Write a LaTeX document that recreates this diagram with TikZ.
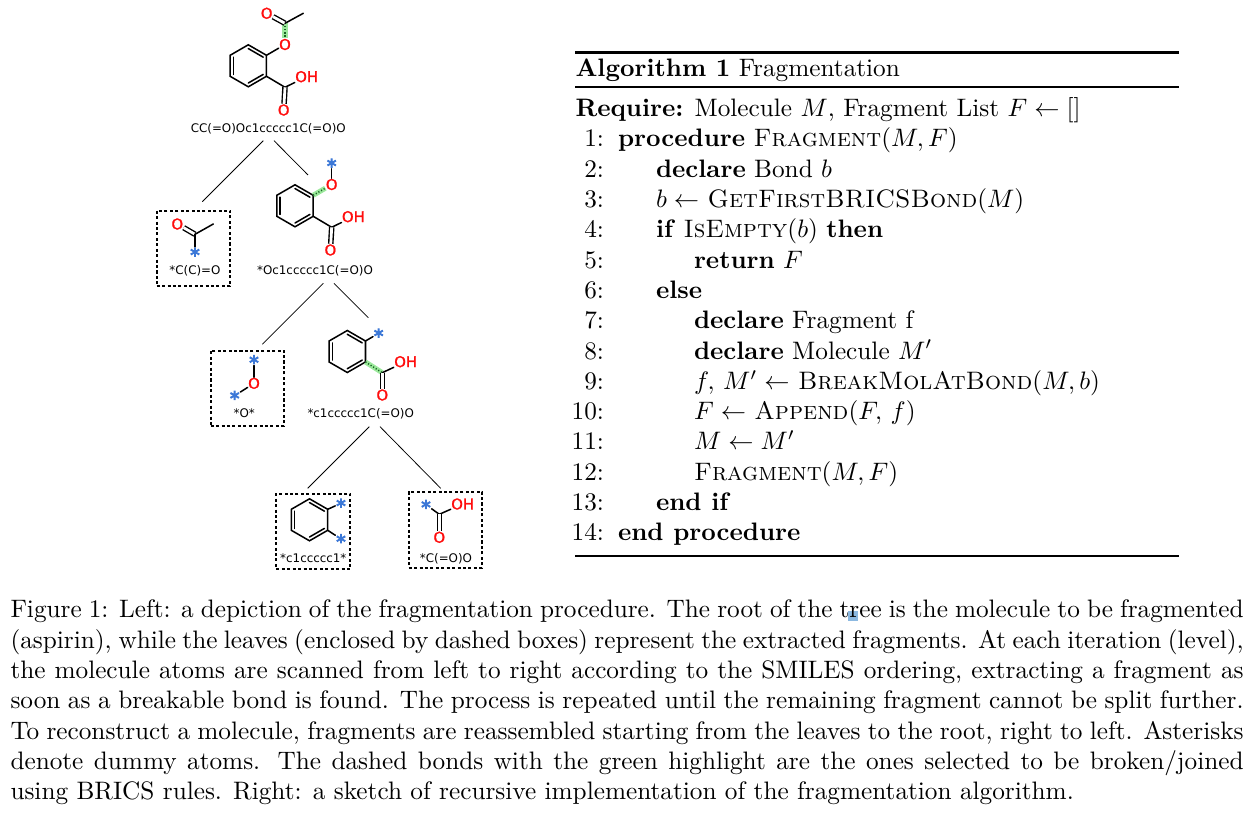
\documentclass[tikz,border=0pt]{standalone}
\usepackage{fontspec}
\usepackage{amsmath}
\usepackage{amssymb}
\usetikzlibrary{calc}
\newfontfamily\molfont{DejaVu Sans}
\newfontfamily\atomfont[FakeBold=1.2]{DejaVu Sans}
\newfontfamily\dummyfont[FakeBold=5]{DejaVu Sans}
\newcommand{\dummyatom}{\raisebox{-3.7pt}[1.8pt][1.8pt]{*}}
\definecolor{oxyred}{RGB}{255,13,13}
\definecolor{dummyblue}{RGB}{60,120,215}
\definecolor{hilitegreen}{RGB}{155,232,155}
\definecolor{dotgreen}{RGB}{25,100,35}
\definecolor{selblue}{RGB}{140,185,225}

\begin{document}
\begin{tikzpicture}[
    x=0.396pt, y=-0.396pt,
    bond/.style={line width=0.6pt, line cap=round},
    dblbond/.style={line width=0.55pt, double, double distance=1.1pt},
    hilite/.style={line width=2pt, hilitegreen},
    dashbond/.style={line width=0.6pt, dotgreen, dash pattern=on 0.45pt off 0.75pt},
    edge/.style={line width=0.3pt},
    oxy/.style={text=oxyred, font=\atomfont\fontsize{5.9}{6}\selectfont, inner sep=0pt},
    dummy/.style={text=dummyblue, font=\dummyfont\fontsize{7.4}{8}\selectfont, inner sep=0.2pt},
    smiles/.style={font=\molfont\fontsize{4.7}{6}\selectfont, inner sep=0pt},
    leafbox/.style={draw, line width=0.75pt, dash pattern=on 1.2pt off 0.95pt},
    algline/.style={anchor=base west, inner sep=0pt},
    lineno/.style={anchor=base east, inner sep=0pt}
]
\useasboundingbox (0,0) rectangle (1258,820);

% Benzene rings
\foreach \rn/\rx/\ry in {a/248.3/65.8, b/295/205.8, c/347.3/351.5, d/309.5/519.8} {
  \coordinate (\rn0) at (\rx,\ry);
  \foreach \i/\ang in {1/270,2/330,3/30,4/90,5/150,6/210} {
    \coordinate (\rn\i) at ($(\rn0)+(\ang:21)$);
  }
  \draw[bond] (\rn1) -- (\rn2) -- (\rn3) -- (\rn4) -- (\rn5) -- (\rn6) -- cycle;
  \draw[bond] ($(\rn0)!0.82!(\rn1)$) -- ($(\rn0)!0.82!(\rn2)$);
  \draw[bond] ($(\rn0)!0.82!(\rn3)$) -- ($(\rn0)!0.82!(\rn4)$);
  \draw[bond] ($(\rn0)!0.82!(\rn5)$) -- ($(\rn0)!0.82!(\rn6)$);
}

% Aspirin
\node[oxy] (aO1) at (285,44.5) {O};
\coordinate (aC1) at (285,23.3);
\node[oxy] (aO2) at (266.7,13.3) {O};
\coordinate (aMe) at (303.3,13.3);
\coordinate (aC2) at (285,87.3);
\node[oxy] (aOH) at (306.7,76.7) {OH};
\node[oxy] (aO3) at (283.7,110) {O};
\node[smiles] (aS) at (268.3,129) {CC(=O)Oc1ccccc1C(=O)O};
\draw[bond] (a2) -- (aO1);
\draw[hilite] (aC1) -- (aO1);
\draw[dashbond] (aC1) -- (aO1);
\draw[dblbond] (aC1) -- (aO2);
\draw[bond] (aC1) -- (aMe);
\draw[bond] (a3) -- (aC2);
\draw[bond] (aC2) -- (aOH);
\draw[dblbond] (aC2) -- (aO3);

% First leaf
\node[leafbox, minimum width=73.6*0.396pt, minimum height=75.3*0.396pt] (box1) at (193.5,248.3) {};
\node[oxy] (eO) at (177.3,224) {O};
\coordinate (eC) at (195,234.3);
\coordinate (eMe) at (213.3,224);
\node[dummy] (eD) at (195,252.3) {\dummyatom};
\node[smiles] (eS) at (195,270.7) {*C(C)=O};
\draw[dblbond] (eC) -- (eO);
\draw[bond] (eC) -- (eMe);
\draw[bond] (eC) -- (eD);

% Second molecule
\node[oxy] (bO1) at (331.7,184.5) {O};
\node[dummy] (bD) at (331.7,163.3) {\dummyatom};
\coordinate (bC2) at (331.7,227.3);
\node[oxy] (bOH) at (353.4,216.7) {OH};
\node[oxy] (bO3) at (330.4,250) {O};
\node[smiles] (bS) at (315,270.7) {*Oc1ccccc1C(=O)O};
\draw[hilite] (b2) -- (bO1);
\draw[dashbond] (b2) -- (bO1);
\draw[bond] (bO1) -- (bD);
\draw[bond] (b3) -- (bC2);
\draw[bond] (bC2) -- (bOH);
\draw[dblbond] (bC2) -- (bO3);

% Second leaf
\node[leafbox, minimum width=73.3*0.396pt, minimum height=75.3*0.396pt] (box2) at (247.3,388.3) {};
\node[dummy] (fD1) at (254,360) {\dummyatom};
\node[oxy] (fO) at (254,383.3) {O};
\node[dummy] (fD2) at (234.7,395.7) {\dummyatom};
\node[smiles] (fS) at (244.3,413.3) {*O*};
\draw[bond] (fO) -- (fD1);
\draw[bond] (fO) -- (fD2);

% Third molecule
\node[dummy] (cD) at (378.7,333.3) {\dummyatom};
\coordinate (cC2) at (382.3,372.7);
\node[oxy] (cOH) at (405.7,361.7) {OH};
\node[oxy] (cO3) at (382.3,395) {O};
\node[smiles] (cS) at (360.7,413.3) {*c1ccccc1C(=O)O};
\draw[bond] (c2) -- (cD);
\draw[hilite] (c3) -- (cC2);
\draw[dashbond] (c3) -- (cC2);
\draw[bond] (cC2) -- (cOH);
\draw[dblbond] (cC2) -- (cO3);

% Third leaf
\node[leafbox, minimum width=73.7*0.396pt, minimum height=75.6*0.396pt] (box3) at (313.2,531.5) {};
\node[dummy] (dD1) at (341,503.3) {\dummyatom};
\node[dummy] (dD2) at (341,539) {\dummyatom};
\node[smiles] (dS) at (313.3,558.3) {*c1ccccc1*};
\draw[bond] (d2) -- (dD1);
\draw[bond] (d3) -- (dD2);

% Fourth leaf
\node[leafbox, minimum width=73.6*0.396pt, minimum height=75.7*0.396pt] (box4) at (445.5,529.8) {};
\node[dummy] (gD) at (426,504.7) {\dummyatom};
\coordinate (gC) at (439.3,514.3);
\node[oxy] (gOH) at (462.7,504) {OH};
\node[oxy] (gO) at (439.3,537.3) {O};
\node[smiles] (gS) at (446,558.3) {*C(=O)O};
\draw[bond] (gC) -- (gD);
\draw[bond] (gC) -- (gOH);
\draw[dblbond] (gC) -- (gO);

% Tree edges
\coordinate (t1) at (263.3,140.7);
\coordinate (t2) at (202.3,201.7);
\coordinate (t3) at (274,140.7);
\coordinate (t4) at (308,175);
\coordinate (t5) at (323.3,283.3);
\coordinate (t6) at (262.3,344.3);
\coordinate (t7) at (334,283.3);
\coordinate (t8) at (368.3,317.7);
\coordinate (t9) at (369.3,426.7);
\coordinate (t10) at (307.7,488.3);
\coordinate (t11) at (380,426.7);
\coordinate (t12) at (440.7,488.3);
\draw[edge] (t1) -- (t2);
\draw[edge] (t3) -- (t4);
\draw[edge] (t5) -- (t6);
\draw[edge] (t7) -- (t8);
\draw[edge] (t9) -- (t10);
\draw[edge] (t11) -- (t12);

% Algorithm rules
\draw[line width=0.8pt] (575,52.5) -- (1179,52.5);
\draw[line width=0.5pt] (575,87) -- (1179,87);
\draw[line width=0.5pt] (575,556) -- (1179,556);

% Algorithm text
\node[algline] (title) at (575,76.7) {\textbf{Algorithm 1} Fragmentation};
\node[algline] (req) at (575,116.7) {\textbf{Require:} Molecule $M$, Fragment List $F \leftarrow []$};
\foreach \n in {1,...,14} {
  \node[lineno] (n\n) at (604.5,{116.7+30.3*\n}) {\n:};
}
\node[algline] (l1) at (617.5,147) {\textbf{procedure} \textsc{Fragment}$(M, F)$};
\node[algline] (l2) at (655.5,177.3) {\textbf{declare} Bond $b$};
\node[algline] (l3) at (655.5,207.6) {$b \leftarrow$ \textsc{GetFirstBRICSBond}$(M)$};
\node[algline] (l4) at (655.5,237.9) {\textbf{if} \textsc{IsEmpty}$(b)$ \textbf{then}};
\node[algline] (l5) at (693.5,268.2) {\textbf{return} $F$};
\node[algline] (l6) at (655.5,298.5) {\textbf{else}};
\node[algline] (l7) at (693.5,328.8) {\textbf{declare} Fragment f};
\node[algline] (l8) at (693.5,359.1) {\textbf{declare} Molecule $M'$};
\node[algline] (l9) at (693.5,389.4) {$f,\, M' \leftarrow$ \textsc{BreakMolAtBond}$(M, b)$};
\node[algline] (l10) at (693.5,419.7) {$F \leftarrow$ \textsc{Append}$(F,\, f)$};
\node[algline] (l11) at (693.5,450) {$M \leftarrow M'$};
\node[algline] (l12) at (693.5,480.3) {\textsc{Fragment}$(M, F)$};
\node[algline] (l13) at (655.5,510.6) {\textbf{end if}};
\node[algline] (l14) at (617.5,540.9) {\textbf{end procedure}};

% Stray selection mark in the caption
\fill[selblue] (848,611) rectangle (858,621);

% Caption
\node[anchor=north west, inner sep=0pt, text width=488.3pt, align=justify] (caption) at (10,599.5) {Figure 1: Left: a depiction of the fragmentation procedure. The root of the tree is the molecule to be fragmented (aspirin), while the leaves (enclosed by dashed boxes) represent the extracted fragments. At each iteration (level), the molecule atoms are scanned from left to right according to the SMILES ordering, extracting a fragment as soon as a breakable bond is found. The process is repeated until the remaining fragment cannot be split further. To reconstruct a molecule, fragments are reassembled starting from the leaves to the root, right to left. Asterisks denote dummy atoms. The dashed bonds with the green highlight are the ones selected to be broken/joined using BRICS rules. Right: a sketch of recursive implementation of the fragmentation algorithm.};

\end{tikzpicture}
\end{document}
